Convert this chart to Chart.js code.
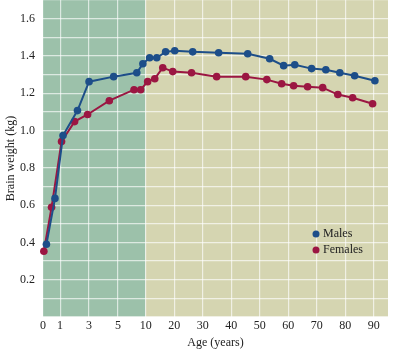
<!DOCTYPE html>
<html>
<head>
<meta charset="utf-8">
<script src="https://cdn.jsdelivr.net/npm/chart.js@4"></script>
<style>
  html, body { margin: 0; padding: 0; background: #ffffff; }
  #wrap { width: 393px; height: 360px; }
</style>
</head>
<body>
<div id="wrap"><canvas id="brainChart" width="393" height="360"></canvas></div>
<script>
// ages (years) and brain weight (kg)
const maleAges = [0.2, 0.7, 1.2, 2.2, 3, 4.7, 8.4, 9.5, 11.4, 13.9, 17, 20.2, 26.5, 35.6, 45.8, 53.5, 58.4, 62.3, 68.2, 73.2, 78.1, 83.3, 90.4];
const maleWeights = [0.39, 0.636, 0.973, 1.107, 1.262, 1.289, 1.31, 1.358, 1.39, 1.39, 1.422, 1.428, 1.422, 1.417, 1.412, 1.385, 1.348, 1.353, 1.332, 1.326, 1.31, 1.294, 1.267];

const femaleAges = [0.05, 0.5, 1.1, 2, 2.9, 4.4, 7.9, 9.1, 10.7, 13.2, 16, 19.5, 26.1, 34.9, 45.1, 52.5, 57.7, 61.9, 66.8, 72.1, 77.4, 82.6, 89.6];
const femaleWeights = [0.353, 0.588, 0.941, 1.048, 1.086, 1.16, 1.219, 1.219, 1.262, 1.278, 1.337, 1.316, 1.31, 1.289, 1.289, 1.273, 1.251, 1.24, 1.235, 1.23, 1.193, 1.176, 1.144];

const ageTicks = [0, 1, 3, 5, 10, 20, 30, 40, 50, 60, 70, 80, 90];

// the age axis is stretched below 10 years: piecewise linear knots
const ageKnots = [0, 1, 3, 5, 10, 90];
const posKnots = [0, 0.6, 1.615, 2.63, 3.6, 11.6];
const splitAge = 10;

function agePos(a) {
    for (let i = 1; i < ageKnots.length; i++) {
        if (a <= ageKnots[i] || i === ageKnots.length - 1) {
            const t = (a - ageKnots[i - 1]) / (ageKnots[i] - ageKnots[i - 1]);
            return posKnots[i - 1] + t * (posKnots[i] - posKnots[i - 1]);
        }
    }
}

const blue = '#1d4e89';
const red = '#9b1642';

function toPoints(ages, vals) {
    return ages.map((a, i) => ({ x: agePos(a), y: vals[i] }));
}

function noPad(s) {
    s.paddingTop = 0; s.paddingBottom = 0; s.paddingLeft = 0; s.paddingRight = 0;
}

// two-tone background of the plot area
const bgPlugin = {
    id: 'bgPlugin',
    beforeDraw(chart) {
        const { ctx, chartArea: a, scales } = chart;
        const xs = scales.x.getPixelForValue(agePos(splitAge));
        ctx.save();
        ctx.fillStyle = '#9cc1aa';
        ctx.fillRect(a.left, a.top, xs - a.left, a.bottom - a.top);
        ctx.fillStyle = '#d5d5b1';
        ctx.fillRect(xs, a.top, a.right - xs, a.bottom - a.top);
        ctx.restore();
    }
};

// small legend inside the plot
const legendPlugin = {
    id: 'legendPlugin',
    afterDraw(chart) {
        const ctx = chart.ctx;
        ctx.save();
        ctx.font = "12px 'Liberation Serif', serif";
        ctx.textBaseline = 'middle';
        chart.data.datasets.forEach((ds, i) => {
            const y = 234 + i * 16;
            ctx.fillStyle = ds.backgroundColor;
            ctx.beginPath();
            ctx.arc(316, y, 3.5, 0, Math.PI * 2);
            ctx.fill();
            ctx.fillStyle = '#222';
            ctx.fillText(ds.label, 323, y);
        });
        ctx.restore();
    }
};

Chart.defaults.font.family = "'Liberation Serif', serif";
Chart.defaults.color = '#222';

new Chart(document.getElementById('brainChart'), {
    type: 'line',
    data: {
        datasets: [
            {
                label: 'Males',
                data: toPoints(maleAges, maleWeights),
                borderColor: blue,
                backgroundColor: blue,
                borderWidth: 2,
                pointRadius: 3.8,
                pointBorderWidth: 0,
                tension: 0,
                clip: 6
            },
            {
                label: 'Females',
                data: toPoints(femaleAges, femaleWeights),
                borderColor: red,
                backgroundColor: red,
                borderWidth: 2,
                pointRadius: 3.8,
                pointBorderWidth: 0,
                tension: 0,
                clip: 6
            }
        ]
    },
    options: {
        responsive: false,
        animation: false,
        layout: { autoPadding: false, padding: { top: 0, right: 5, left: 0, bottom: 10 } },
        plugins: {
            legend: { display: false },
            tooltip: { enabled: false }
        },
        scales: {
            x: {
                type: 'linear',
                min: 0,
                max: 12.1,
                afterBuildTicks: s => { s.ticks = ageTicks.map(a => ({ value: agePos(a) })); },
                afterFit: s => { s.height = 33; noPad(s); },
                ticks: {
                    autoSkip: false,
                    maxRotation: 0,
                    padding: 2,
                    font: { size: 12 },
                    callback: (v, i) => String(ageTicks[i])
                },
                grid: { color: 'rgba(255,255,255,0.65)', lineWidth: 1.2, drawTicks: false },
                border: { display: false },
                title: { display: true, text: 'Age (years)', font: { size: 12 }, padding: { top: 2, bottom: 0 } }
            },
            y: {
                min: 0,
                max: 1.7,
                afterFit: s => { s.width = 43; noPad(s); },
                ticks: {
                    stepSize: 0.1,
                    padding: 8,
                    font: { size: 12 },
                    callback: v => {
                        const k = Math.round(v * 10);
                        return (k === 0 || k % 2 !== 0) ? '' : (k / 10).toFixed(1);
                    }
                },
                grid: { color: 'rgba(255,255,255,0.65)', lineWidth: 1.2, drawTicks: false },
                border: { display: false },
                title: { display: true, text: 'Brain weight (kg)', font: { size: 12 }, padding: { top: 4, bottom: 0 } }
            }
        }
    },
    plugins: [bgPlugin, legendPlugin]
});
</script>
</body>
</html>
